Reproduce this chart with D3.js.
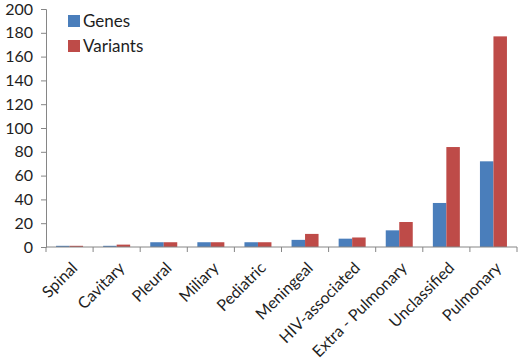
<!DOCTYPE html>
<html lang="en">
<head>
  <meta charset="UTF-8">
  <title>Genes and Variants by TB type</title>
  <style>
    body { margin: 0; background: #fff; }
    svg text { font-family: Lato, "Open Sans", sans-serif; fill: #1e1e1e; }
  </style>
</head>
<body>
  <div id="chart"></div>
  <script src="https://d3js.org/d3.v7.min.js"></script>
  <script>
    // data
    const categories = ["Spinal", "Cavitary", "Pleural", "Miliary", "Pediatric",
                        "Meningeal", "HIV-associated", "Extra - Pulmonary", "Unclassified", "Pulmonary"];
    const genes    = [1, 1, 4, 4, 4, 6, 7, 14, 37, 72];
    const variants = [1, 2, 4, 4, 4, 11, 8, 21, 84, 177];
    const seriesNames = ["Genes", "Variants"];
    const yTicks = [0, 20, 40, 60, 80, 100, 120, 140, 160, 180, 200];

    const width = 520, height = 364;
    const colors = ["#4a7ebb", "#be4b48"];
    const axisColor = "#868686";

    const svg = d3.select("#chart").append("svg")
      .attr("width", width)
      .attr("height", height);

    const x = d3.scaleBand().domain(categories).range([46, 517]);
    const y = d3.scaleLinear().domain([0, 200]).range([247, 9]);
    const inner = d3.scaleBand().domain(seriesNames).range([0, 27]);
    const groupOffset = (x.bandwidth() - 27) / 2;

    // bars
    const series = [genes, variants];
    series.forEach((vals, s) => {
      svg.append("g").selectAll("rect")
        .data(categories)
        .join("rect")
        .attr("x", (d, i) => x(d) + groupOffset + inner(seriesNames[s]))
        .attr("y", (d, i) => y(vals[i]))
        .attr("width", inner.bandwidth())
        .attr("height", (d, i) => y(0) - y(vals[i]))
        .attr("fill", colors[s]);
    });

    // y axis
    const yAxis = svg.append("g")
      .attr("transform", "translate(46,0)")
      .call(d3.axisLeft(y).tickValues(yTicks).tickSize(5).tickPadding(8));
    yAxis.select(".domain").attr("stroke", axisColor);
    yAxis.selectAll(".tick line").attr("stroke", axisColor);
    yAxis.selectAll(".tick text").style("font-size", "16px").attr("fill", "#1e1e1e");

    // x axis: ticks sit between categories
    const xAxis = svg.append("g")
      .attr("transform", `translate(0,${y(0)})`);
    xAxis.append("line")
      .attr("x1", 46).attr("x2", 517)
      .attr("stroke", axisColor);
    xAxis.selectAll(".sep")
      .data(categories.concat(["end"]))
      .join("line")
      .attr("x1", (d, i) => i < categories.length ? x(d) : x.range()[1])
      .attr("x2", (d, i) => i < categories.length ? x(d) : x.range()[1])
      .attr("y1", 0).attr("y2", 5)
      .attr("stroke", axisColor);
    xAxis.selectAll(".lbl")
      .data(categories)
      .join("text")
      .attr("transform", d => `translate(${x(d) + x.bandwidth() / 2 + 5},${18}) rotate(-45)`)
      .attr("text-anchor", "end")
      .attr("dy", "0.35em")
      .style("font-size", "16px")
      .text(d => d);

    // legend
    const legend = svg.append("g").attr("transform", "translate(68,15)");
    seriesNames.forEach((name, i) => {
      const g = legend.append("g").attr("transform", `translate(0,${i * 25})`);
      g.append("rect").attr("width", 12).attr("height", 12).attr("fill", colors[i]);
      g.append("text").attr("x", 15).attr("y", 6).attr("dy", "0.35em")
        .style("font-size", "17px").text(name);
    });
  </script>
</body>
</html>
